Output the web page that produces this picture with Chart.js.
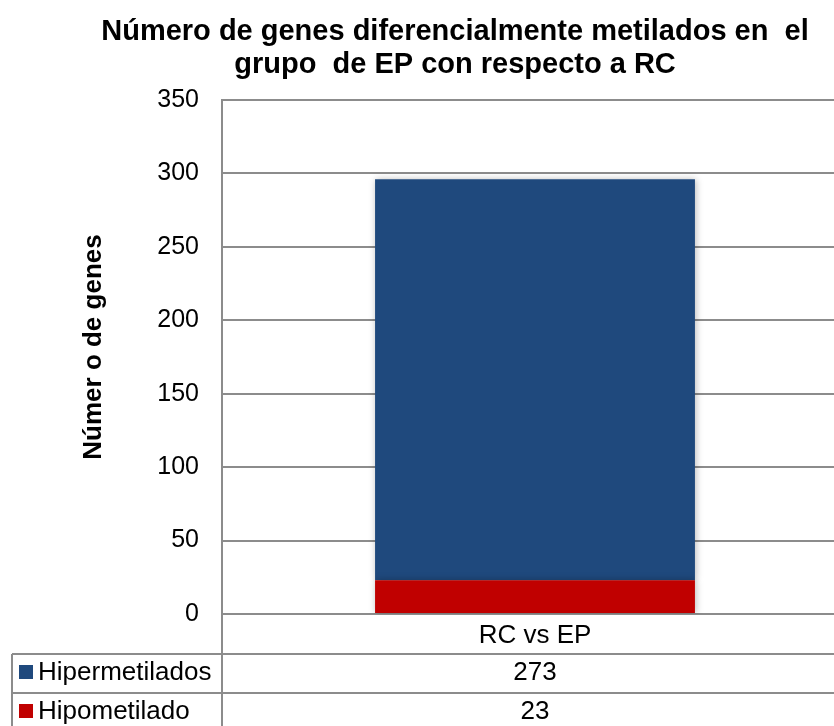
<!DOCTYPE html>
<html>
<head>
<meta charset="utf-8">
<script src="https://cdn.jsdelivr.net/npm/chart.js@4.4.0/dist/chart.umd.min.js"></script>
<style>
  html, body { margin: 0; padding: 0; background: #fff; overflow: hidden; }
  #wrap { width: 834px; height: 726px; overflow: hidden; }
</style>
</head>
<body>
<!-- the plot runs a little past the right edge in the original, so the canvas is wider than the window -->
<div id="wrap"><canvas id="myChart" width="848" height="726"></canvas></div>
<script>
/* global Chart */

// data
const categories = ['RC vs EP'];
const seriesNames = ['Hipermetilados', 'Hipometilado'];
const hipermetilados = [273];
const hipometilado = [23];
const yTicks = [0, 50, 100, 150, 200, 250, 300, 350];
const titleLines = ['Número de genes diferencialmente metilados en  el', 'grupo  de EP con respecto a RC'];
const yTitle = 'Númer o de genes';

const blue = '#1F497D';
const red = '#C00000';
const gridColor = '#8c8c8c';
const family = '"Liberation Sans", Arial, sans-serif';

// title, axis title and the data table under the plot
const extras = {
  id: 'extras',
  beforeDatasetsDraw(chart) {
    const ctx = chart.ctx;
    ctx.save();
    ctx.shadowColor = 'rgba(0,0,0,0.28)';
    ctx.shadowBlur = 7;
    ctx.shadowOffsetX = 1;
  },
  afterDatasetsDraw(chart) {
    chart.ctx.restore();
  },
  afterDraw(chart) {
    const ctx = chart.ctx;
    const area = chart.chartArea;
    const x = chart.scales.x;
    const W = chart.width, H = chart.height;

    ctx.save();
    ctx.fillStyle = '#000';
    ctx.textAlign = 'center';
    ctx.textBaseline = 'alphabetic';
    ctx.font = 'bold 29px ' + family;
    ctx.fillText(titleLines[0], 455, 40);
    ctx.fillText(titleLines[1], 455, 73);

    ctx.translate(94, 347);
    ctx.rotate(-Math.PI / 2);
    ctx.textBaseline = 'middle';
    ctx.font = 'bold 26px ' + family;
    ctx.fillText(yTitle, 0, 0);
    ctx.restore();

    // table lines
    const row1 = 654, row2 = 693, left = 12;
    ctx.save();
    ctx.strokeStyle = gridColor;
    ctx.lineWidth = 2;
    ctx.beginPath();
    ctx.moveTo(area.left, area.bottom); ctx.lineTo(area.left, H);
    ctx.moveTo(left, row1); ctx.lineTo(W, row1);
    ctx.moveTo(left, row2); ctx.lineTo(W, row2);
    ctx.moveTo(left, row1); ctx.lineTo(left, H);
    ctx.stroke();

    const rows = [
      { name: seriesNames[0], color: blue, values: hipermetilados, y: 673 },
      { name: seriesNames[1], color: red, values: hipometilado, y: 712 }
    ];
    ctx.font = '26px ' + family;
    ctx.textBaseline = 'middle';
    rows.forEach(r => {
      ctx.fillStyle = r.color;
      ctx.fillRect(19, r.y - 8, 14, 14);
      ctx.fillStyle = '#000';
      ctx.textAlign = 'left';
      ctx.fillText(r.name, 38, r.y);
      ctx.textAlign = 'center';
      r.values.forEach((v, i) => {
        ctx.fillText(String(v), x.getPixelForValue(i), r.y);
      });
    });
    ctx.restore();
  }
};

const ctx = document.getElementById('myChart').getContext('2d');
const myChart = new Chart(ctx, {
  type: 'bar',
  data: {
    labels: categories,
    datasets: [
      { label: seriesNames[1], data: hipometilado, backgroundColor: red },
      { label: seriesNames[0], data: hipermetilados, backgroundColor: blue }
    ]
  },
  plugins: [extras],
  options: {
    responsive: false,
    animation: false,
    events: [],
    categoryPercentage: 1,
    barPercentage: 0.511,
    layout: { padding: { top: 100, right: 0, bottom: 0, left: 0 } },
    plugins: {
      legend: { display: false },
      title: { display: false },
      tooltip: { enabled: false }
    },
    scales: {
      x: {
        stacked: true,
        offset: true,
        grid: { offset: true, color: gridColor, lineWidth: 2, drawTicks: false },
        border: { display: false },
        ticks: { color: '#000', font: { size: 26, family: family }, padding: 6 },
        afterFit(s) { s.height = 112; }
      },
      y: {
        stacked: true,
        min: yTicks[0],
        max: yTicks[yTicks.length - 1],
        ticks: { stepSize: 50, color: '#000', font: { size: 25, family: family }, padding: 23 },
        grid: { color: gridColor, lineWidth: 2, drawTicks: false },
        border: { display: true, color: gridColor, width: 2 },
        afterFit(s) { s.width = 222; }
      }
    }
  }
});
</script>
</body>
</html>
